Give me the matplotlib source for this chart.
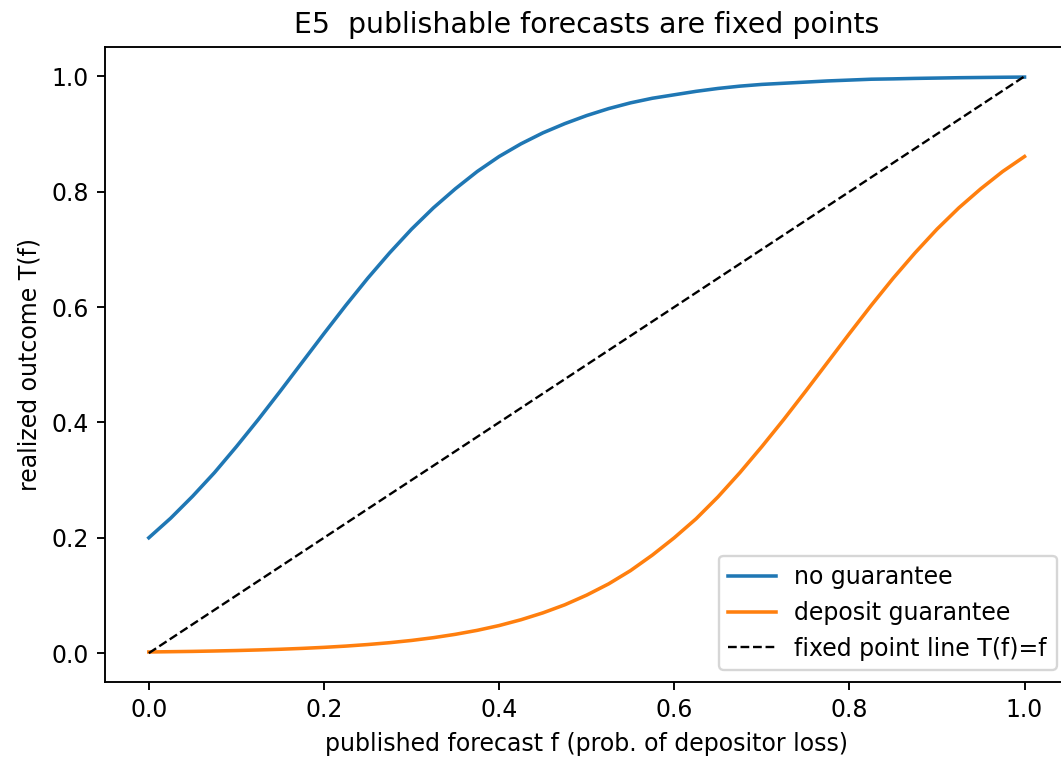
import matplotlib
matplotlib.use("Agg")
import matplotlib.pyplot as plt

# published forecast f (at 0.025 steps)
f_vals = [0.000, 0.025, 0.050, 0.075, 0.100, 0.125, 0.150, 0.175, 0.200, 0.225,
          0.250, 0.275, 0.300, 0.325, 0.350, 0.375, 0.400, 0.425, 0.450, 0.475,
          0.500, 0.525, 0.550, 0.575, 0.600, 0.625, 0.650, 0.675, 0.700, 0.725,
          0.750, 0.775, 0.800, 0.825, 0.850, 0.875, 0.900, 0.925, 0.950, 0.975,
          1.000]

# realized outcome T(f) without guarantee
no_guarantee = [0.200, 0.234, 0.272, 0.313, 0.358, 0.405, 0.454, 0.504, 0.554,
                0.603, 0.650, 0.694, 0.735, 0.772, 0.805, 0.835, 0.861, 0.883,
                0.902, 0.918, 0.932, 0.944, 0.954, 0.962, 0.968, 0.974, 0.979,
                0.983, 0.986, 0.988, 0.990, 0.992, 0.9935, 0.995, 0.9956,
                0.9964, 0.997, 0.9976, 0.998, 0.9984, 0.9987]

# realized outcome T(f) with deposit guarantee
deposit_guarantee = [0.0020, 0.0025, 0.0030, 0.0037, 0.0045, 0.0055, 0.0067,
                     0.0082, 0.0100, 0.0122, 0.0149, 0.0181, 0.0220, 0.0268,
                     0.0326, 0.0395, 0.0478, 0.0579, 0.0698, 0.0838, 0.1006,
                     0.120, 0.143, 0.170, 0.200, 0.233, 0.271, 0.313, 0.358,
                     0.405, 0.454, 0.504, 0.554, 0.603, 0.650, 0.694, 0.735,
                     0.772, 0.805, 0.835, 0.861]

# fixed point line T(f) = f
diag_f = [0.0, 1.0]
diag_t = [0.0, 1.0]

fig = plt.figure(figsize=(1061 / 170, 766 / 170), dpi=170)
ax = fig.add_axes([0.099, 0.1097, 0.9079, 0.8283])

ax.plot(f_vals, no_guarantee, label="no guarantee")
ax.plot(f_vals, deposit_guarantee, label="deposit guarantee")
ax.plot(diag_f, diag_t, "k--", linewidth=1, label="fixed point line T(f)=f")

ax.set_title("E5  publishable forecasts are fixed points")
ax.set_xlabel("published forecast f (prob. of depositor loss)")
ax.set_ylabel("realized outcome T(f)")
ax.legend(loc="lower right")

fig.savefig("out.png", dpi=170)
